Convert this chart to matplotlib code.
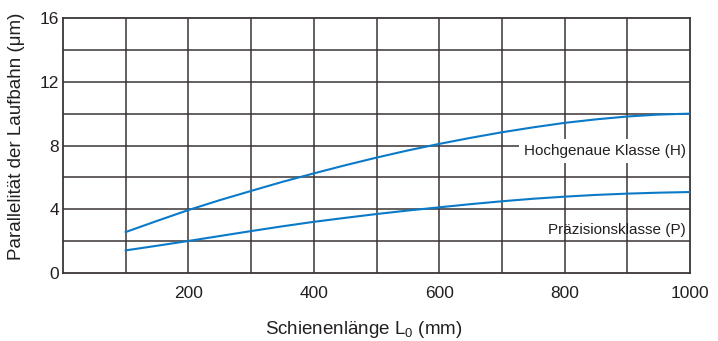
import matplotlib
matplotlib.use("Agg")
import matplotlib.pyplot as plt

plt.rcParams['font.family'] = ['Liberation Sans', 'DejaVu Sans']
plt.rcParams['mathtext.fontset'] = 'custom'
plt.rcParams['mathtext.rm'] = 'Liberation Sans'

length = [100, 150, 200, 250, 300, 350, 400, 450, 500, 550,
          600, 650, 700, 750, 800, 850, 900, 950, 1000]
klasse_h = [2.57, 3.27, 3.95, 4.57, 5.15, 5.72, 6.25, 6.76, 7.24, 7.69,
            8.10, 8.48, 8.83, 9.14, 9.42, 9.64, 9.82, 9.94, 10.0]
klasse_p = [1.42, 1.71, 2.01, 2.32, 2.63, 2.93, 3.21, 3.46, 3.70, 3.92,
            4.12, 4.32, 4.50, 4.66, 4.79, 4.90, 4.98, 5.04, 5.08]
x_ticks = [200, 400, 600, 800, 1000]
y_ticks = [0, 4, 8, 12, 16]

txt = '#231f20'
grid = '#3a3536'
blue = '#0a7ac8'

fig = plt.figure(figsize=(7.18, 3.41), dpi=100)
ax = fig.add_axes([63/718, 1-273/341, 627/718, 255/341])
ax.set_xlim(0, 1000)
ax.set_ylim(0, 16)

for xv in range(100, 1000, 100):
    ax.axvline(xv, color=grid, lw=1.1, zorder=1)
for yv in range(2, 16, 2):
    ax.axhline(yv, color=grid, lw=1.1, zorder=1)

ax.plot(length, klasse_h, color=blue, lw=1.5, zorder=3)
ax.plot(length, klasse_p, color=blue, lw=1.5, zorder=3)

ax.text(994, 7.65, 'Hochgenaue Klasse (H)', ha='right', va='center', fontsize=11,
        color=txt, zorder=2.2,
        bbox=dict(facecolor='white', edgecolor='none', boxstyle='square,pad=0.35'))
ax.text(994, 2.72, 'Präzisionsklasse (P)', ha='right', va='center', fontsize=11,
        color=txt, zorder=4)

ax.set_xticks(x_ticks)
ax.set_yticks(y_ticks)
ax.tick_params(length=0, labelsize=12.5, labelcolor=txt)
ax.tick_params(axis='x', pad=9)
ax.tick_params(axis='y', pad=3)
for s in ['left', 'bottom', 'right', 'top']:
    ax.spines[s].set_color(grid)
    ax.spines[s].set_linewidth(1.3)

ax.set_xlabel('Schienenlänge L$_0$ (mm)', fontsize=13.5, color=txt, va='center')
ax.xaxis.set_label_coords((364-63)/627, -(329-273)/255)
ax.set_ylabel('Parallelität der Laufbahn (μm)', fontsize=13.5, color=txt, va='center')
ax.yaxis.set_label_coords((17-63)/627, (273-136)/255)

fig.savefig('out.png', dpi=100)
